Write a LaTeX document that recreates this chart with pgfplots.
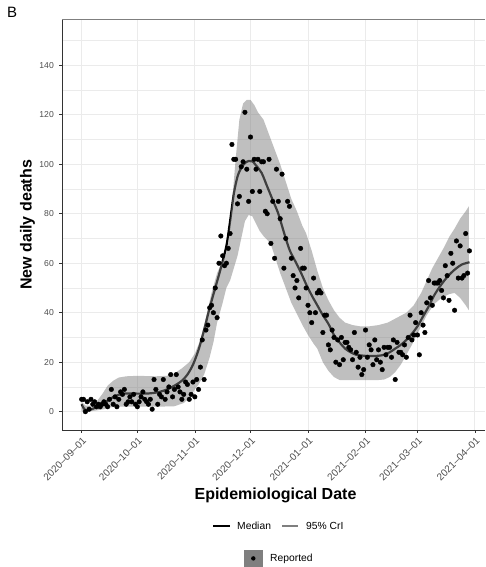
\documentclass[border=0pt]{standalone}
\usepackage{pgfplots}
\pgfplotsset{compat=1.18}
\usepackage{pgfplotstable}
\usepackage{fontspec}
\setmainfont{Liberation Sans}
\definecolor{gridc}{HTML}{EBEBEB}
\definecolor{tickc}{HTML}{4D4D4D}
\definecolor{ribc}{HTML}{7F7F7F}
\definecolor{axc}{HTML}{333333}

\pgfplotstableread{
day val
0 5
1 5
2 0
3 4
4 1
5 5
6 3
7 4
8 2
9 3
10 2
11 3
12 4
13 3
14 2
15 5
16 9
17 3
18 6
19 2
20 5
21 8
22 7
23 9
24 3
25 4
26 6
27 4
28 7
29 3
30 2
31 4
32 6
33 8
34 5
35 4
36 3
37 5
38 1
39 13
40 9
41 3
42 7
43 6
44 13
45 5
46 8
47 10
48 15
49 6
50 9
51 15
52 10
53 8
54 5
55 7
56 12
57 11
58 5
59 7
60 12
61 6
62 13
63 9
64 18
65 29
66 13
67 33
68 35
69 42
70 43
71 40
72 50
73 38
74 60
75 71
76 63
77 59
78 60
79 66
80 72
81 108
82 102
83 102
84 84
85 87
86 99
87 101
88 121
89 98
90 85
91 111
92 89
93 102
94 98
95 102
96 89
97 101
98 101
99 81
100 80
101 102
102 68
103 85
104 62
105 98
106 85
107 78
108 96
109 58
110 70
111 85
112 83
113 62
114 55
115 50
116 53
117 46
118 66
119 58
120 58
121 50
122 43
123 40
124 36
125 54
126 40
127 48
128 49
129 48
130 32
131 39
132 39
133 27
134 25
135 33
136 30
137 20
138 29
139 19
140 30
141 21
142 28
143 28
144 26
145 25
146 21
147 32
148 24
149 18
150 22
151 15
152 17
153 33
154 22
155 27
156 25
157 19
158 29
159 21
160 25
161 20
162 17
163 26
164 23
165 26
166 26
167 22
168 29
169 13
170 28
171 24
172 24
173 23
174 27
175 22
176 30
177 39
178 29
179 31
180 36
181 31
182 23
183 40
184 35
185 32
186 44
187 53
188 46
189 43
190 52
191 52
192 52
193 53
194 49
195 46
196 59
197 55
198 45
199 64
200 60
201 41
202 69
203 54
204 67
205 54
206 55
207 72
208 56
209 65
}\tabrep

\pgfplotstableread{
day val
0 3
1 1.5
2 0.6
4 0.6
7 1.5
10 2.5
14 4.5
18 6.3
22 7.2
26 7.4
30 7.3
34 7.3
38 7.5
42 8
46 9
50 10.5
54 12.5
57 15
60 19
63 25
66 33
69 42
72 50
75 58
78 67
80 77
82 88
84 95
86 98.5
88 100.5
90 101.3
92 101.2
94 99.5
97 96.5
100 91
103 85.5
106 80
109 72.5
112 65.5
115 61
118 56.5
121 51.5
124 47
127 43
130 39
133 35.5
136 31
139 28
142 25.5
145 24
148 23
151 22.7
154 22.5
157 22.5
160 22.6
163 23
166 24
169 25.5
172 27
175 29
178 31.5
181 34.5
184 38.5
187 42.5
190 47
193 50.5
196 53.5
199 56
202 58
205 59.5
209 60.4
}\tabmed

% 95% CrI band: upper bound forward, then lower bound backward
\pgfplotstableread{
day val
0 4
2 2.5
5 2.5
8 4
11 7
14 10.5
17 12.5
20 13.8
24 14.3
30 14.5
40 14.3
46 14.5
50 15.5
54 17.5
58 20
61 23.5
64 29
67 38
70 48
73 56
76 61
78 64
79 68
81 84
83 102
85 118
87 124.5
89 126
91 126
93 124
95 121
98 118
101 112
104 106
107 100
110 93
113 86
116 81
119 75
121 72
124 65
127 57
130 50
133 45
136 41
139 38
142 36
146 35
150 34.5
155 34.5
160 35
165 36
170 38
175 40
179 43
183 48
186 53
189 58
192 62
195 66
198 70.5
201 74
204 78
207 81
208.7 83
208.7 41
207 43
204 46
201 48
198 47.5
194 46
190 43.5
186 39
182 33
178 27
175 23
172 19
169 16
166 14
163 13
160 12.8
150 12.8
139 12.8
136 14
133 16.5
130 20
127 25.5
125 27.5
122 31
119 35
116 39.5
113 44
110 50
107 56
104 63
102 67.5
100 69.5
98 71
96 73
94 76
92 79
90 79.5
88 77
86 70
84 63
82 58
80 53
78 50
76 44
73 36
71 28
69 22
66 15
63 11
61 9
58 5.5
55 3.5
50 2.2
40 2
30 2
20 2
16 1.8
12 1
8 0.5
3 0
0 0
}\tabrib

\begin{document}
\begin{tikzpicture}[x=1pt,y=1pt]
\node[anchor=base west, inner sep=0pt, font=\fontsize{15}{15}\selectfont] at (7,549) {B};
\begin{axis}[
  at={(62pt,137pt)}, anchor=south west,
  scale only axis, width=423pt, height=410pt,
  xmin=-10.6, xmax=217.4, ymin=-7.4, ymax=158.3,
  axis x line*=bottom, axis y line*=left,
  axis line style={-, color=axc, line width=0.8pt},
  xtick={0,30,61,91,122,153,181,212},
  xticklabels={2020--09--01,2020--10--01,2020--11--01,2020--12--01,2021--01--01,2021--02--01,2021--03--01,2021--04--01},
  ytick={0,20,40,60,80,100,120,140},
  minor ytick={10,30,50,70,90,110,130,150},
  grid=both,
  major grid style={color=gridc, line width=1pt},
  minor grid style={color=gridc, line width=0.5pt},
  tick align=outside,
  major tick length=3pt, minor tick length=0pt,
  tick style={color=axc, line width=0.6pt},
  /pgf/number format/assume math mode=true,
  yticklabel style={font=\fontsize{8.6}{9}\selectfont, text=tickc, inner sep=0pt, xshift=-5pt},
  xticklabel style={font=\fontsize{10}{10}\selectfont, text=tickc, rotate=45, anchor=north east, inner sep=0pt, xshift=-2.4pt, yshift=-2.8pt},
  clip=true,
]
\addplot[only marks, mark=*, mark size=2.3pt, black] table[x=day,y=val] {\tabrep};
\addplot[black, line width=2.2pt, smooth] table[x=day,y=val] {\tabmed};
\addplot[fill=ribc, fill opacity=0.5, draw=none] table[x=day,y=val] {\tabrib} -- cycle;
\draw[color=ribc, line width=1pt] (rel axis cs:0,1) -- (rel axis cs:1,1);
\end{axis}
\node[rotate=90, anchor=base, font=\bfseries\fontsize{16}{16}\selectfont] at (31.5,342) {New daily deaths};
\node[anchor=base, font=\bfseries\fontsize{16}{16}\selectfont] at (275.5,67) {Epidemiological Date};
% legend
\draw[black, line width=2.6pt] (213,41) -- (230,41);
\node[anchor=west, inner sep=0pt, font=\fontsize{10.3}{10.3}\selectfont] at (237,41) {Median};
\draw[ribc, line width=2.6pt] (282,41) -- (298,41);
\node[anchor=west, inner sep=0pt, font=\fontsize{10.3}{10.3}\selectfont] at (306,41) {95\% CrI};
\fill[ribc] (244,0.3) rectangle (262.7,17);
\fill[black] (253.3,8.6) circle (2.2pt);
\node[anchor=west, inner sep=0pt, font=\fontsize{10.3}{10.3}\selectfont] at (270,8.6) {Reported};
\pgfresetboundingbox
\useasboundingbox (0,0) rectangle (485,567);
\end{tikzpicture}
\end{document}
